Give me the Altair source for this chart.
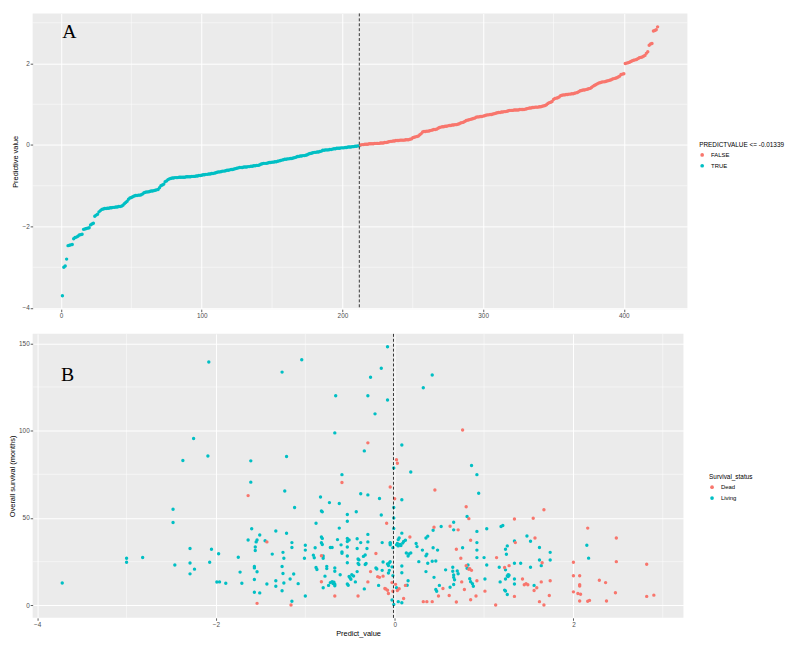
import altair as alt
import pandas as pd

# ---------------- Panel A: sorted predictive values ----------------
cutoff = -0.01339
risk_low = [
    -3.70, -3.00, -2.97, -2.80, -2.47, -2.46, -2.45, -2.44, -2.30, -2.27, -2.26, -2.24,
    -2.21, -2.20, -2.19, -2.07, -2.06, -2.05, -2.04, -2.03, -1.96, -1.94, -1.92,
    -1.75, -1.72, -1.70, -1.64, -1.61,
    -1.58, -1.57, -1.56, -1.56, -1.55, -1.55, -1.54, -1.54,
    -1.53, -1.53, -1.52, -1.52, -1.51, -1.51, -1.50, -1.48,
    -1.44, -1.41, -1.38, -1.33, -1.30, -1.29, -1.27,
    -1.25, -1.24, -1.24, -1.23, -1.23, -1.22, -1.20,
    -1.17, -1.16, -1.15, -1.15, -1.14, -1.13, -1.13, -1.12,
    -1.11, -1.10, -1.09, -1.05, -1.00, -0.98, -0.96, -0.90, -0.88, -0.85,
    -0.83, -0.82, -0.81, -0.81,
    -0.80, -0.80, -0.80, -0.79, -0.79, -0.79, -0.79, -0.79, -0.78, -0.78,
    -0.78, -0.78, -0.77, -0.77, -0.77, -0.76, -0.76, -0.75, -0.75, -0.74,
    -0.73, -0.73, -0.72, -0.72, -0.71, -0.71, -0.70, -0.70, -0.69, -0.68,
    -0.67, -0.66, -0.66, -0.65, -0.64, -0.64, -0.63, -0.62, -0.62, -0.61,
    -0.60, -0.60, -0.59, -0.58, -0.57, -0.56,
    -0.55, -0.55, -0.55, -0.54, -0.54, -0.54, -0.53, -0.53, -0.52, -0.52,
    -0.51, -0.51, -0.50, -0.50, -0.49,
    -0.47, -0.46, -0.45, -0.45, -0.45, -0.44,
    -0.43, -0.43, -0.42, -0.42, -0.41, -0.41, -0.40,
    -0.39, -0.38, -0.37, -0.36,
    -0.35, -0.35, -0.34, -0.34, -0.33, -0.33, -0.32, -0.31, -0.30,
    -0.28, -0.28, -0.27, -0.27, -0.26, -0.26, -0.25, -0.24,
    -0.22, -0.21, -0.20, -0.19, -0.18, -0.18, -0.17, -0.17, -0.16, -0.15,
    -0.13, -0.13, -0.12, -0.12, -0.12, -0.11, -0.11, -0.10,
    -0.09, -0.09, -0.08, -0.08, -0.08, -0.07, -0.07, -0.07, -0.06, -0.06,
    -0.05, -0.05, -0.05, -0.04, -0.04, -0.03, -0.03, -0.02, -0.02,
]
risk_high = [
    0.00, 0.01, 0.01, 0.02, 0.02, 0.02, 0.03, 0.03, 0.03, 0.03,
    0.04, 0.04, 0.04, 0.04, 0.05, 0.05, 0.05, 0.06, 0.06,
    0.07, 0.08, 0.09, 0.09, 0.10, 0.10, 0.11, 0.11, 0.11, 0.12,
    0.12, 0.12, 0.12, 0.13, 0.13, 0.13, 0.14, 0.15,
    0.18, 0.19, 0.20, 0.21, 0.22, 0.25, 0.28,
    0.32, 0.33, 0.33, 0.34, 0.34, 0.35, 0.36,
    0.37, 0.38, 0.38, 0.39, 0.41,
    0.43, 0.44, 0.45, 0.45, 0.46, 0.46, 0.47,
    0.48, 0.48, 0.49, 0.49, 0.50, 0.50, 0.51, 0.52,
    0.54, 0.55, 0.56, 0.58,
    0.60, 0.61, 0.62, 0.63, 0.64, 0.65, 0.66,
    0.68, 0.69, 0.69, 0.70, 0.70, 0.71, 0.72, 0.73,
    0.74, 0.74, 0.75, 0.75, 0.76, 0.77, 0.78, 0.79,
    0.80, 0.80, 0.81, 0.81, 0.82, 0.82, 0.83, 0.84,
    0.85, 0.85, 0.85, 0.86, 0.86, 0.86, 0.86, 0.87, 0.87, 0.87, 0.87, 0.88, 0.89, 0.90,
    0.91, 0.91, 0.92, 0.92, 0.93, 0.93, 0.93, 0.94, 0.94, 0.95, 0.96, 0.97, 0.99,
    1.02, 1.04, 1.05, 1.07,
    1.12, 1.14, 1.15, 1.16, 1.18,
    1.21, 1.22, 1.23, 1.23, 1.24, 1.24, 1.25, 1.25, 1.26, 1.26, 1.27, 1.28, 1.29, 1.31,
    1.33, 1.34, 1.35, 1.35, 1.36, 1.37, 1.38, 1.39, 1.41,
    1.44, 1.46, 1.48, 1.50,
    1.52, 1.53, 1.54, 1.55, 1.55, 1.56, 1.57, 1.58, 1.59, 1.60,
    1.62, 1.63, 1.64, 1.65, 1.67, 1.69,
    1.73, 1.74, 1.75,
    2.00, 2.01, 2.02, 2.03, 2.05,
    2.07, 2.08, 2.09, 2.10, 2.12,
    2.14, 2.15, 2.16, 2.18, 2.20,
    2.25, 2.29, 2.45, 2.48, 2.49, 2.80, 2.81, 2.83, 2.90,
]

# ---------------- Panel B: predictive value vs overall survival ----------------
living_points = [
    (-3.72, 12.8), (-3.00, 26.9), (-3.00, 24.6), (-2.82, 27.4), (-2.48, 55.0), (-2.48, 47.4),
    (-2.46, 23.1), (-2.37, 82.9), (-2.29, 32.5), (-2.29, 24.2), (-2.29, 18.0), (-2.25, 95.5),
    (-2.24, 20.7), (-2.08, 139.3), (-2.09, 85.5), (-2.07, 24.6), (-2.05, 32.1), (-1.97, 29.5),
    (-1.99, 13.3), (-1.96, 13.4), (-1.89, 12.6), (-1.75, 27.5), (-1.73, 19.0), (-1.71, 12.6),
    (-1.64, 37.4), (-1.61, 82.7), (-1.61, 70.5), (-1.60, 43.8), (-1.57, 22.2), (-1.57, 21.4),
    (-1.57, 14.8), (-1.57, 7.5), (-1.56, 33.4), (-1.56, 31.4), (-1.55, 36.3), (-1.54, 37.4),
    (-1.54, 19.2), (-1.51, 40.2), (-1.51, 7.1), (-1.45, 37.0), (-1.43, 12.2), (-1.37, 29.3),
    (-1.33, 42.5), (-1.33, 14.1), (-1.33, 10.9), (-1.26, 133.5), (-1.26, 22.2), (-1.26, 8.3),
    (-1.25, 30.3), (-1.25, 18.2), (-1.24, 26.9), (-1.24, 12.8), (-1.23, 65.4), (-1.21, 85.2),
    (-1.21, 41.2), (-1.17, 15.1), (-1.15, 35.9), (-1.15, 33.1), (-1.15, 2.3), (-1.13, 17.9),
    (-1.12, 56.0), (-1.08, 12.4), (-1.04, 140.6),
    (-1.01, 26.9), (-1.00, 34.4), (-1.00, 31.6), (-1.00, 5.3), (-0.91, 28.7), (-0.90, 27.2),
    (-0.89, 32.9), (-0.88, 47.0), (-0.88, 21.6), (-0.87, 20.5), (-0.83, 62.0), (-0.82, 54.0),
    (-0.81, 53.5), (-0.82, 39.1), (-0.81, 38.3), (-0.82, 35.8), (-0.81, 34.8), (-0.80, 28.2),
    (-0.80, 26.9), (-0.78, 16.7), (-0.80, 10.0), (-0.76, 22.3), (-0.76, 21.0), (-0.74, 11.4),
    (-0.73, 58.8), (-0.72, 33.1), (-0.70, 33.1), (-0.72, 13.0), (-0.70, 13.5), (-0.69, 12.5),
    (-0.68, 13.2), (-0.67, 98.7), (-0.66, 120.0), (-0.67, 21.4), (-0.67, 19.5), (-0.67, 12.1),
    (-0.67, 11.2), (-0.64, 37.6), (-0.62, 58.3), (-0.62, 44.2), (-0.61, 17.5), (-0.60, 34.6),
    (-0.59, 30.6), (-0.59, 29.8), (-0.59, 74.8), (-0.53, 52.0), (-0.53, 48.1), (-0.53, 38.3),
    (-0.51, 37.4), (-0.53, 36.5), (-0.53, 33.4), (-0.53, 28.2), (-0.53, 24.4), (-0.53, 12.2),
    (-0.52, 11.5), (-0.51, 16.5), (-0.50, 15.8), (-0.49, 14.9), (-0.48, 17.5), (-0.46, 16.8),
    (-0.43, 53.6), (-0.42, 38.1), (-0.42, 32.5), (-0.42, 19.3), (-0.41, 26.5), (-0.40, 26.0),
    (-0.41, 24.0), (-0.40, 23.3), (-0.44, 13.4), (-0.38, 63.9), (-0.38, 35.9), (-0.35, 28.0),
    (-0.33, 28.8), (-0.34, 88.4), (-0.34, 9.4), (-0.33, 23.4), (-0.32, 23.9), (-0.30, 120.0),
    (-0.30, 40.6), (-0.30, 36.3), (-0.30, 63.2), (-0.31, 32.5), (-0.27, 130.6), (-0.22, 109.6),
    (-0.21, 21.4), (-0.20, 20.8), (-0.18, 11.4), (-0.17, 61.1), (-0.15, 135.7), (-0.15, 51.7),
    (-0.14, 35.9), (-0.14, 20.0), (-0.13, 24.8), (-0.08, 117.5), (-0.08, 148.0), (-0.08, 23.7),
    (-0.07, 22.8), (-0.06, 24.3), (-0.05, 25.0), (-0.07, 18.5), (-0.06, 20.0), (-0.05, 35.9),
    (-0.05, 35.5), (-0.05, 34.7), (-0.01, 78.6), (-0.01, 56.0), (-0.01, 50.0), (-0.01, 44.0),
    (-0.02, 33.0), (-0.03, 22.0), (-0.02, 17.0), (-0.03, 3.0), (-0.01, 0.5),
    (0.42, 131.8), (0.32, 124.5), (0.08, 91.8), (0.18, 76.3), (0.86, 80.0), (0.92, 74.8),
    (0.94, 64.1), (0.08, 60.4), (0.81, 50.8), (0.66, 47.5), (0.52, 45.1), (0.43, 43.0),
    (0.66, 43.2), (0.92, 42.3), (0.08, 41.3), (0.05, 38.5), (0.04, 37.6), (0.12, 37.2),
    (0.10, 36.5), (0.09, 35.6), (0.24, 35.4), (0.25, 33.6), (0.35, 38.5), (0.37, 39.6),
    (0.02, 34.6), (0.04, 34.0), (0.03, 35.4), (0.06, 34.8), (0.07, 34.2), (0.13, 29.9),
    (0.16, 29.4), (0.18, 30.0), (0.15, 28.2), (0.31, 31.6), (0.36, 29.3), (0.35, 28.3),
    (0.43, 32.9), (0.48, 31.6), (0.76, 32.9), (0.92, 31.6), (0.92, 35.9), (0.92, 27.3),
    (1.00, 27.3), (0.42, 25.2), (0.46, 25.4), (0.37, 24.1), (0.27, 25.0), (0.82, 23.1),
    (0.81, 21.2), (0.08, 22.5), (0.08, 18.6), (0.35, 19.3), (0.44, 16.0), (0.65, 21.8),
    (0.65, 19.5), (0.66, 17.4), (0.66, 16.0), (0.67, 14.6), (0.66, 11.9), (0.70, 19.7),
    (0.71, 18.1), (0.57, 20.3), (0.84, 15.2), (0.85, 13.5), (0.87, 12.3), (0.15, 14.1),
    (0.14, 11.5), (0.50, 11.4), (0.46, 9.0), (0.47, 8.0), (0.62, 10.3), (0.88, 10.9),
    (0.04, 2.1), (0.08, 1.5), (0.02, 10.0),
    (1.03, 43.8), (1.19, 45.1), (1.21, 45.7), (1.48, 39.7), (1.52, 36.7), (1.34, 36.8),
    (1.26, 34.0), (1.62, 33.1), (1.24, 32.1), (1.74, 30.3), (1.25, 29.2), (2.15, 34.4),
    (1.62, 25.9), (1.74, 25.9), (1.03, 23.1), (1.34, 24.1), (1.41, 24.1), (1.64, 22.7),
    (1.17, 21.8), (1.52, 21.8), (1.24, 20.3), (1.27, 17.5), (1.28, 17.2), (1.27, 16.5),
    (1.26, 16.8), (1.01, 15.1), (1.24, 15.1), (1.34, 15.1), (1.34, 12.2), (1.18, 13.4),
    (1.56, 11.4), (1.23, 8.7), (1.24, 8.2), (1.26, 6.2), (2.17, 27.0),
]
dead_points = [
    (-1.64, 62.8), (-1.54, 1.1), (-1.43, 36.3), (-1.16, 0.2),
    (-0.82, 28.4), (-0.82, 13.5), (-0.67, 5.3), (-0.59, 70.3), (-0.41, 5.3), (-0.30, 93.0),
    (-0.30, 13.4), (-0.27, 19.3), (-0.21, 29.7), (-0.19, 16.4), (-0.17, 16.0), (-0.13, 16.7),
    (-0.11, 9.6), (-0.10, 9.3), (-0.09, 47.0), (-0.08, 8.6), (-0.07, 6.8), (-0.05, 67.7),
    (0.00, 61.0), (-0.03, 13.0), (-0.02, 8.0),
    (0.76, 100.4), (0.02, 83.3), (0.03, 81.3), (0.45, 66.0), (0.80, 56.4), (0.83, 49.6),
    (0.62, 45.3), (0.44, 44.7), (0.71, 43.2), (0.17, 39.1), (0.69, 32.1), (0.85, 37.2),
    (0.74, 26.9), (0.80, 22.7), (0.84, 21.0), (0.86, 20.0), (0.83, 20.6), (0.75, 13.4),
    (0.92, 14.1), (0.12, 11.4), (0.54, 9.6), (0.78, 9.0), (0.49, 5.3), (0.61, 5.6),
    (0.91, 5.3), (0.85, 3.2), (0.10, 3.9), (0.32, 2.1), (0.36, 2.1), (0.42, 2.1),
    (0.69, 1.9), (0.03, 8.5), (0.05, 9.5), (0.01, 12.0),
    (1.67, 54.7), (1.34, 49.4), (1.55, 49.8), (2.16, 44.2), (1.57, 38.5), (1.35, 35.9),
    (1.14, 27.3), (1.65, 24.4), (1.28, 22.7), (1.23, 21.6), (2.00, 24.6), (1.43, 15.1),
    (2.00, 16.9), (2.07, 16.9), (1.45, 11.8), (1.47, 12.4), (1.49, 11.8), (1.64, 13.4),
    (1.74, 14.1), (1.59, 10.0), (1.56, 8.5), (1.01, 8.1), (1.34, 5.1), (1.73, 5.6),
    (2.00, 7.7), (2.05, 6.8), (2.08, 6.3), (1.62, 2.1), (1.67, 0.2), (1.13, 0.2),
    (2.07, 2.5), (2.16, 2.3), (2.18, 2.8), (2.48, 38.5), (2.48, 25.0), (2.82, 23.5),
    (2.29, 14.3), (2.36, 13.0), (2.07, 11.8), (2.07, 11.0), (2.47, 7.2), (2.37, 2.5),
    (2.82, 5.1), (2.90, 5.8),
]

# axis breaks (major / minor grid)
a_x_major = [0, 100, 200, 300, 400]
a_x_minor = [50, 150, 250, 350]
a_y_major = [-4, -2, 0, 2]
a_y_minor = [-3, -1, 1, 3]
b_x_major = [-4, -2, 0, 2]
b_x_minor = [-3, -1, 1, 3]
b_y_major = [0, 50, 100, 150]
b_y_minor = [25, 75, 125]

RED = "#F8766D"
TEAL = "#00BFC4"


def expand(lo, hi, f=0.05):
    r = hi - lo
    return [lo - f * r, hi + f * r]


# ---------- data frames ----------
values = risk_low + risk_high
df_a = pd.DataFrame({
    "idx": list(range(1, len(values) + 1)),
    "value": values,
})
df_a["grp"] = ["TRUE" if v <= cutoff else "FALSE" for v in values]
cut_idx = int((df_a["grp"] == "TRUE").sum())

df_b = pd.DataFrame(
    [(x, y, "Living") for x, y in living_points] + [(x, y, "Dead") for x, y in dead_points],
    columns=["pv", "os", "status"],
)

xa_dom = expand(df_a["idx"].min(), df_a["idx"].max())
ya_dom = expand(df_a["value"].min(), df_a["value"].max())
xb_dom = expand(df_b["pv"].min(), df_b["pv"].max())
yb_dom = expand(df_b["os"].min(), df_b["os"].max())

WA = 664
WB = 660
HA = 300
HB = 288

# ---------- panel A ----------
XA = alt.X("idx:Q", scale=alt.Scale(domain=xa_dom, nice=False, zero=False),
           axis=alt.Axis(values=a_x_major, title=None))
YA = alt.Y("value:Q", scale=alt.Scale(domain=ya_dom, nice=False, zero=False),
           axis=alt.Axis(values=a_y_major, title="Predictive value"))

minor_xa = alt.Chart(pd.DataFrame({"idx": a_x_minor})).mark_rule(
    color="white", strokeWidth=0.5).encode(x=XA)
minor_ya = alt.Chart(pd.DataFrame({"value": a_y_minor})).mark_rule(
    color="white", strokeWidth=0.5).encode(y=YA)
pts_a = alt.Chart(df_a).mark_circle(size=12, opacity=1).encode(
    x=XA, y=YA,
    color=alt.Color("grp:N", scale=alt.Scale(domain=["FALSE", "TRUE"], range=[RED, TEAL]),
                    legend=alt.Legend(title="PREDICTVALUE <= -0.01339", orient="none",
                                      legendX=WA + 12, legendY=130)),
)
vline_a = alt.Chart(pd.DataFrame({"idx": [cut_idx]})).mark_rule(
    color="#222222", strokeWidth=0.9, strokeDash=[3, 2]).encode(x=XA)
lab_a = alt.Chart(pd.DataFrame({"idx": [6], "value": [2.78], "t": ["A"]})).mark_text(
    font="Liberation Serif", fontSize=20, color="black").encode(x=XA, y=YA, text="t:N")

panel_a = alt.layer(minor_xa, minor_ya, pts_a, vline_a, lab_a).properties(width=WA, height=HA)

# ---------- panel B ----------
XB = alt.X("pv:Q", scale=alt.Scale(domain=xb_dom, nice=False, zero=False),
           axis=alt.Axis(values=b_x_major, title="Predict_value"))
YB = alt.Y("os:Q", scale=alt.Scale(domain=yb_dom, nice=False, zero=False),
           axis=alt.Axis(values=b_y_major, title="Overall survival (months)"))

minor_xb = alt.Chart(pd.DataFrame({"pv": b_x_minor})).mark_rule(
    color="white", strokeWidth=0.5).encode(x=XB)
minor_yb = alt.Chart(pd.DataFrame({"os": b_y_minor})).mark_rule(
    color="white", strokeWidth=0.5).encode(y=YB)
pts_b = alt.Chart(df_b).mark_circle(size=12, opacity=1).encode(
    x=XB, y=YB,
    color=alt.Color("status:N", scale=alt.Scale(domain=["Dead", "Living"], range=[RED, TEAL]),
                    legend=alt.Legend(title="Survival_status", orient="none",
                                      legendX=WB + 26, legendY=142)),
)
vline_b = alt.Chart(pd.DataFrame({"pv": [cutoff]})).mark_rule(
    color="#222222", strokeWidth=0.9, strokeDash=[3, 2]).encode(x=XB)
lab_b = alt.Chart(pd.DataFrame({"pv": [-3.66], "os": [132.0], "t": ["B"]})).mark_text(
    font="Liberation Serif", fontSize=20, color="black").encode(x=XB, y=YB, text="t:N")

panel_b = alt.layer(minor_xb, minor_yb, pts_b, vline_b, lab_b).properties(width=WB, height=HB)

chart = (
    alt.vconcat(panel_a, panel_b, spacing=14)
    .resolve_scale(color="independent")
    .resolve_legend(color="independent")
    .properties(padding={"left": 0, "top": 0, "right": 0, "bottom": 0})
    .configure(font="Liberation Sans")
    .configure_view(fill="#EBEBEB", strokeWidth=0)
    .configure_axis(
        domain=False, grid=True, gridColor="white", gridWidth=1,
        tickColor="#333333", tickSize=2.5, tickWidth=0.8,
        labelFontSize=6.5, labelColor="#4D4D4D", labelPadding=1,
        titleFontSize=7.5, titleFontWeight="normal", titleColor="black", titlePadding=2,
    )
    .configure_legend(
        titleFontSize=6.5, titleFontWeight="normal", titleColor="black", titlePadding=4,
        labelFontSize=6, labelColor="black", symbolSize=14, symbolType="circle",
        symbolStrokeWidth=0, rowPadding=5, labelOffset=6,
    )
)

chart.save("out.html", embed_options={"renderer": "svg", "actions": False})
